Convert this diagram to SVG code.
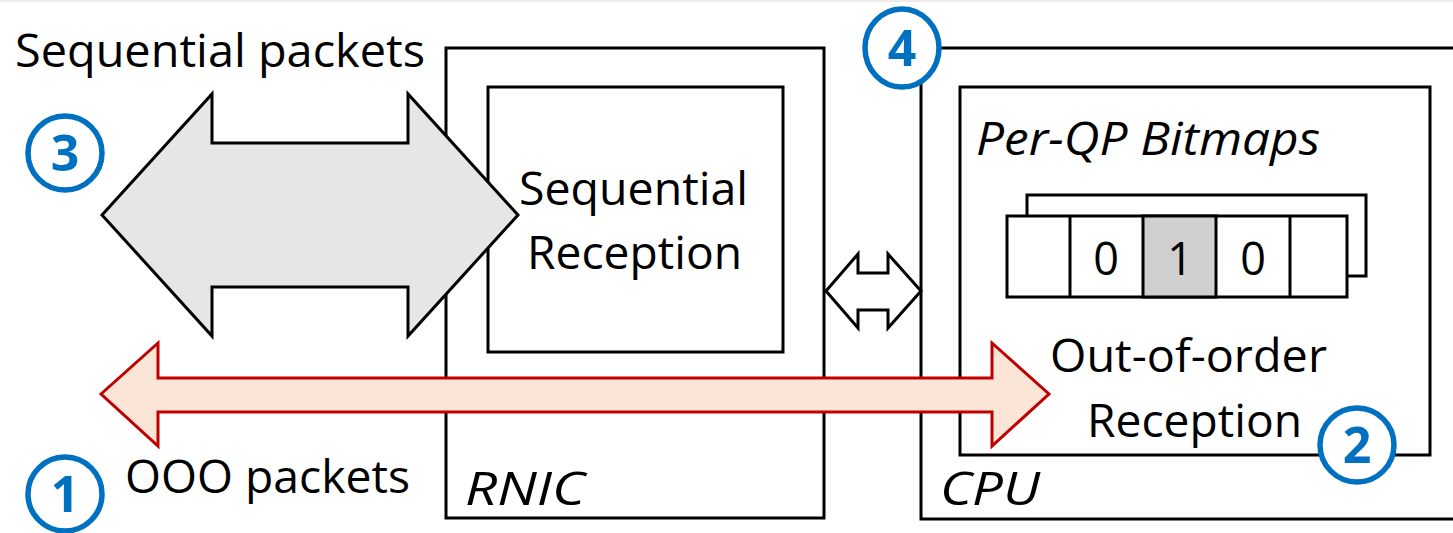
<svg xmlns="http://www.w3.org/2000/svg" width="1453" height="533" viewBox="0 0 1453 533">
  <defs>
    <style>
      .box { fill: none; stroke: #000; stroke-width: 3; }
      .cell { fill: #fff; stroke: #000; stroke-width: 3; }
      .lbl { font-family: "Open Sans", "Liberation Sans", sans-serif; font-size: 46px; fill: #000; }
      .it { font-style: italic; }
      .badge circle { fill: #fff; stroke: #0070c0; stroke-width: 5.5; }
      .badge text { font-family: "Open Sans", "Liberation Sans", sans-serif; font-size: 50px; font-weight: bold; fill: #0070c0; text-anchor: middle; }
      .digit { font-family: "Open Sans", "Liberation Sans", sans-serif; font-size: 45px; fill: #000; text-anchor: middle; }
    </style>
  </defs>

  <rect x="0" y="0" width="1453" height="533" fill="#fff"/>
  <rect x="0" y="0" width="1453" height="2" fill="#ececec"/>

  <!-- RNIC -->
  <g id="rnic">
    <rect class="box" x="446" y="48" width="378" height="470"/>
    <text class="lbl it" x="465" y="505" textLength="120" lengthAdjust="spacingAndGlyphs">RNIC</text>
  </g>

  <!-- Sequential reception block inside the RNIC -->
  <g id="seq-reception">
    <rect class="box" x="488" y="87" width="295" height="265"/>
  </g>

  <!-- CPU -->
  <g id="cpu">
    <rect class="box" x="921" y="48" width="540" height="471"/>
    <text class="lbl it" x="940" y="505" textLength="100" lengthAdjust="spacingAndGlyphs">CPU</text>
  </g>

  <!-- Out-of-order reception block with the per-QP bitmaps -->
  <g id="ooo-reception">
    <rect class="box" x="960" y="87" width="470" height="368"/>
    <text class="lbl it" x="976" y="155" textLength="344" lengthAdjust="spacingAndGlyphs">Per-QP Bitmaps</text>
  </g>

  <g id="bitmap">
    <rect class="cell" x="1027" y="195" width="339" height="81"/>
    <rect class="cell" x="1007" y="216" width="340" height="81"/>
    <rect x="1143" y="216" width="73" height="81" fill="#d0d0d0" stroke="#000" stroke-width="3"/>
    <line x1="1070" y1="216" x2="1070" y2="297" stroke="#000" stroke-width="3"/>
    <line x1="1290" y1="216" x2="1290" y2="297" stroke="#000" stroke-width="3"/>
    <text class="digit" x="1106" y="275">0</text>
    <text class="digit" x="1180" y="275">1</text>
    <text class="digit" x="1253" y="275">0</text>
  </g>

  <!-- Connectors -->
  <g id="connectors">
    <polygon points="102,215 212,94 212,143 408,143 408,94 518,215 408,336 408,287 212,287 212,336" fill="#e6e6e6" stroke="#000" stroke-width="3" stroke-linejoin="miter"/>
    <polygon points="101,394 158,343 158,378 992,378 992,343 1049,394 992,446 992,412 158,412 158,446" fill="#fbe5d6" stroke="#c00000" stroke-width="3"/>
    <polygon points="826,291 858,254 858,273 888,273 888,254 921,291 888,328 888,310 858,310 858,328" fill="#fff" stroke="#000" stroke-width="3"/>
  </g>

  <!-- Text drawn over the arrows -->
  <g id="labels">
    <text class="lbl" x="15" y="67" font-size="48" textLength="410" lengthAdjust="spacingAndGlyphs">Sequential packets</text>
    <text class="lbl" x="519" y="205" textLength="229" lengthAdjust="spacingAndGlyphs">Sequential</text>
    <text class="lbl" x="527" y="269" textLength="215" lengthAdjust="spacingAndGlyphs">Reception</text>
    <text class="lbl" x="1050" y="372" textLength="277" lengthAdjust="spacingAndGlyphs">Out-of-order</text>
    <text class="lbl" x="1087" y="437" textLength="215" lengthAdjust="spacingAndGlyphs">Reception</text>
    <text class="lbl" x="125" y="493" textLength="285" lengthAdjust="spacingAndGlyphs">OOO packets</text>
  </g>

  <!-- Step badges -->
  <g id="badge-1" class="badge">
    <circle cx="65" cy="494" r="37"/>
    <text x="65" y="512">1</text>
  </g>
  <g id="badge-2" class="badge">
    <circle cx="1357" cy="445" r="37"/>
    <text x="1357" y="463">2</text>
  </g>
  <g id="badge-3" class="badge">
    <circle cx="65" cy="153" r="37"/>
    <text x="65" y="171">3</text>
  </g>
  <g id="badge-4" class="badge">
    <ellipse cx="902" cy="48" rx="37" ry="39" fill="#fff" stroke="#0070c0" stroke-width="5.5"/>
    <text x="902" y="66">4</text>
  </g>
</svg>
